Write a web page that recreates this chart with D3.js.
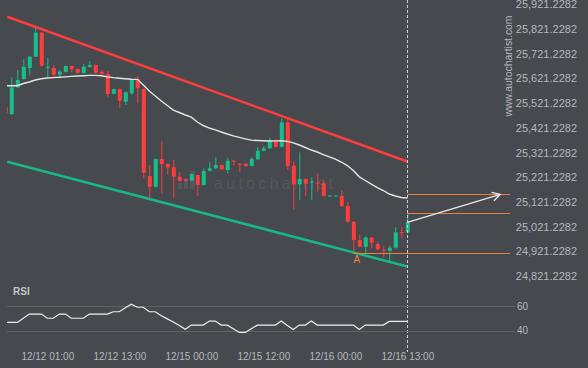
<!DOCTYPE html>
<html lang="en">
<head>
    <meta charset="UTF-8">
    <title>Autochartist channel chart</title>
    <style>
        body { margin: 0; background: #46494e; }
        svg { display: block; font-family: "Liberation Sans", Arial, sans-serif; }
        .axis text { fill: #b5b8bc; }
    </style>
    <script src="https://d3js.org/d3.v7.min.js"></script>
</head>
<body>
    <div id="chart"></div>
    <script>
        // hourly candles, index 0 .. 67
        const open = [25504.1, 25477.0, 25585.1, 25618.7, 25663.3, 25709.0, 25806.2, 25666.5, 25663.3, 25636.1,
            25648.3, 25671.4, 25659.2, 25643.0, 25667.3, 25675.4, 25648.3, 25639.0, 25559.2, 25578.2,
            25526.8, 25560.8, 25618.7, 25578.2, 25226.0, 25182.6, 25294.8, 25274.6, 25261.2, 25223.1,
            25212.6, 25206.9, 25230.0, 25189.5, 25247.4, 25257.2, 25270.5, 25250.3, 25287.9, 25275.8,
            25275.8, 25266.5, 25293.6, 25328.4, 25338.1, 25368.9, 25344.6, 25443.4, 25267.7, 25192.4,
            25213.8, 25201.7, 25199.7, 25196.4, 25145.0, 25145.0, 25145.0, 25104.5, 25040.9, 24966.8,
            24939.7, 24976.2, 24950.6, 24927.6, 24923.5, 24935.7, 24999.2, 24998.0];
        const high = [25509.4, 25625.6, 25655.2, 25698.5, 25711.9, 25828.1, 25809.0, 25703.8, 25675.4, 25655.2,
            25673.4, 25673.4, 25661.2, 25679.5, 25691.6, 25677.4, 25655.2, 25651.1, 25580.3, 25580.3,
            25568.1, 25616.7, 25630.9, 25580.3, 25270.5, 25296.8, 25364.9, 25276.6, 25290.8, 25242.2,
            25213.8, 25236.1, 25232.0, 25256.3, 25283.9, 25301.7, 25272.5, 25300.1, 25290.8, 25278.6,
            25278.6, 25301.7, 25342.2, 25347.4, 25379.8, 25374.6, 25458.8, 25459.6, 25283.9, 25321.9,
            25215.9, 25220.7, 25236.9, 25212.6, 25149.0, 25149.0, 25169.3, 25121.9, 25043.8, 24987.1,
            24983.0, 24979.0, 24960.0, 24942.5, 24943.8, 25018.3, 25020.7, 25074.9];
        const low = [25477.0, 25473.0, 25582.3, 25614.7, 25634.9, 25707.8, 25668.5, 25626.8, 25628.0, 25628.0,
            25645.0, 25645.9, 25641.0, 25641.0, 25665.3, 25641.0, 25636.9, 25544.6, 25556.0, 25500.1,
            25513.5, 25553.9, 25520.3, 25216.7, 25138.1, 25179.4, 25155.9, 25230.0, 25138.1, 25203.7,
            25203.7, 25203.7, 25145.0, 25187.5, 25244.2, 25254.3, 25250.3, 25236.9, 25266.5, 25243.4,
            25262.4, 25264.4, 25290.8, 25325.2, 25335.3, 25341.4, 25341.4, 25250.3, 25091.1, 25128.8,
            25145.0, 25128.8, 25162.4, 25143.0, 25143.0, 25143.0, 25100.5, 25037.7, 24913.0, 24936.5,
            24913.0, 24933.2, 24926.3, 24896.8, 24879.0, 24932.4, 24973.7, 24995.2];
        const close = [25482.3, 25585.1, 25614.7, 25668.5, 25709.0, 25806.2, 25672.6, 25668.5, 25636.1, 25648.3,
            25671.4, 25659.2, 25644.2, 25668.5, 25675.4, 25644.2, 25640.2, 25558.0, 25578.2, 25530.9,
            25564.9, 25614.7, 25581.1, 25239.3, 25182.6, 25294.8, 25274.6, 25261.2, 25223.1, 25206.9,
            25206.9, 25234.1, 25189.5, 25246.2, 25257.2, 25270.5, 25253.1, 25287.9, 25283.9, 25273.3,
            25266.5, 25296.0, 25328.4, 25338.1, 25368.9, 25344.6, 25443.4, 25266.5, 25192.4, 25213.8,
            25194.8, 25203.7, 25197.6, 25146.2, 25147.0, 25147.0, 25104.5, 25040.9, 24966.8, 24939.7,
            24976.2, 24955.9, 24929.2, 24925.1, 24935.7, 24998.0, 24996.4, 25038.5];
        // moving average (white line)
        const ma = [25591.6, 25591.6, 25591.6, 25600.5, 25606.6, 25614.7, 25619.9, 25622.8, 25624.4, 25626.0,
            25627.6, 25629.3, 25630.9, 25632.1, 25633.3, 25633.3, 25631.7, 25627.6, 25624.4, 25622.0,
            25619.9, 25617.9, 25617.5, 25594.4, 25570.1, 25549.9, 25529.6, 25511.4, 25493.2, 25483.1,
            25473.0, 25464.1, 25444.6, 25430.5, 25420.3, 25413.0, 25404.1, 25396.0, 25388.7, 25382.7,
            25376.6, 25371.3, 25369.7, 25368.5, 25367.7, 25368.1, 25368.9, 25366.5, 25360.4, 25351.5,
            25341.4, 25331.2, 25323.2, 25313.0, 25303.7, 25294.8, 25282.7, 25268.5, 25248.2, 25222.7,
            25207.8, 25193.6, 25179.4, 25167.3, 25153.1, 25145.0, 25138.9, 25136.9];
        const rsi = [46.6, 46.6, 46.6, 50, 53.4, 53.4, 53.4, 50, 50, 53.4,
            53.4, 50, 50, 50, 53.4, 53.4, 53.4, 53.4, 55.3, 55.3,
            58.5, 61.4, 59, 59, 55.3, 55.3, 52, 49.5, 47, 44,
            41, 44.4, 44.4, 44.4, 47.7, 47.7, 44.4, 44.4, 41.5, 38.4,
            38.4, 41.5, 44.4, 44.4, 44.4, 44.4, 47.7, 44, 40.8, 44.4,
            44.4, 47.7, 44.4, 44.4, 44.4, 44.4, 44.4, 44.4, 44.4, 40.8,
            44.4, 44.4, 44.4, 44.4, 47.4, 47.4, 47.4, 47.4];

        // channel lines: [index, price]
        const upperChannel = [[0.33, 25871.0], [67, 25284.7]];
        const lowerChannel = [[0.33, 25283.9], [67, 24859.5]];
        // pattern levels: [start index, price]
        const levels = [[67, 25151.9], [67, 25074.9], [58, 24913.0]];
        const target = [82.5, 25151.9];
        const pointA = [58, 24913.0];

        const priceTicks = d3.range(12).map(k => 25921.2282 - 100 * k);
        const rsiTicks = [60, 40];
        const timeTickIndex = [7, 19, 31, 43, 55, 67];
        const timeTickLabels = ["12/12 01:00", "12/12 13:00", "12/15 00:00", "12/15 12:00", "12/16 00:00", "12/16 13:00"];

        const W = 588, H = 368;
        const bg = "#46494e", up = "#19bd89", down = "#ff3d3d", orange = "#f07f3e";
        const lastIdx = open.length - 1;

        const svg = d3.select("#chart").append("svg")
            .attr("width", W).attr("height", H);
        svg.append("rect").attr("width", W).attr("height", H).attr("fill", bg);

        const x = d3.scaleLinear().domain([0, 84]).range([5.3, 509.3]);
        const y = d3.scaleLinear().domain([24821.2282, 25921.2282]).range([276, 4.3]);
        const yr = d3.scaleLinear().domain([40, 60]).range([330.5, 306]);

        const defs = svg.append("defs");
        defs.append("clipPath").attr("id", "plotClip")
            .append("rect").attr("x", 7).attr("y", 0).attr("width", 503).attr("height", 285);
        defs.append("clipPath").attr("id", "rsiClip")
            .append("rect").attr("x", 7).attr("y", 285).attr("width", 503).attr("height", 60);

        // watermark
        const wm = svg.append("g").attr("fill", "#53565b");
        [[178, 183, 4, 6], [184, 178, 4, 11], [190, 171, 5, 18]].forEach(r => {
            wm.append("rect").attr("x", r[0]).attr("y", r[1]).attr("width", r[2]).attr("height", r[3]);
        });
        wm.append("text").attr("x", 214).attr("y", 189)
            .attr("font-size", 16).attr("letter-spacing", 3.3)
            .text("autochartist");

        const plot = svg.append("g").attr("clip-path", "url(#plotClip)");

        // candles
        const idx = d3.range(open.length);
        plot.selectAll("line.wick").data(idx).join("line")
            .attr("class", "wick")
            .attr("x1", i => x(i) + 0.5).attr("x2", i => x(i) + 0.5)
            .attr("y1", i => y(high[i])).attr("y2", i => y(low[i]))
            .attr("stroke", i => close[i] >= open[i] ? up : down)
            .attr("stroke-width", 1);
        plot.selectAll("rect.body").data(idx).join("rect")
            .attr("class", "body")
            .attr("x", i => x(i) - 1.5)
            .attr("width", 4)
            .attr("y", i => y(Math.max(open[i], close[i])))
            .attr("height", i => Math.max(1, Math.abs(y(open[i]) - y(close[i]))))
            .attr("fill", i => close[i] >= open[i] ? up : down);

        // moving average
        plot.append("path")
            .datum(idx)
            .attr("d", d3.line().x(i => x(i)).y(i => y(ma[i])))
            .attr("fill", "none").attr("stroke", "#e4e4e4").attr("stroke-width", 1.4);

        // channel
        const chLine = d3.line().x(d => x(d[0])).y(d => y(d[1]));
        plot.append("path").datum(upperChannel).attr("d", chLine)
            .attr("stroke", down).attr("stroke-width", 2.5).attr("fill", "none");
        plot.append("path").datum(lowerChannel).attr("d", chLine)
            .attr("stroke", "#18b886").attr("stroke-width", 2.5).attr("fill", "none");

        // pattern levels
        plot.selectAll("line.level").data(levels).join("line")
            .attr("class", "level")
            .attr("x1", d => x(d[0])).attr("x2", 510)
            .attr("y1", d => Math.round(y(d[1])) + 0.5).attr("y2", d => Math.round(y(d[1])) + 0.5)
            .attr("stroke", orange).attr("stroke-width", 1.2);

        svg.append("text")
            .attr("x", x(pointA[0]) + 3.5).attr("y", y(pointA[1]) + 10)
            .attr("text-anchor", "middle").attr("font-size", 10)
            .attr("fill", orange).text("A");

        // forecast arrow
        const ax0 = x(lastIdx), ay0 = y(close[lastIdx]);
        const ax1 = x(target[0]), ay1 = y(target[1]);
        const ang = Math.atan2(ay1 - ay0, ax1 - ax0);
        svg.append("line")
            .attr("x1", ax0).attr("y1", ay0).attr("x2", ax1).attr("y2", ay1)
            .attr("stroke", "#e8e8e8").attr("stroke-width", 1.3);
        const head = [ang + Math.PI - 0.5, ang + Math.PI + 0.5].map(a => [ax1 + 9 * Math.cos(a), ay1 + 9 * Math.sin(a)]);
        svg.append("path")
            .attr("d", `M${head[0]}L${ax1},${ay1}L${head[1]}`)
            .attr("fill", "none").attr("stroke", "#e8e8e8").attr("stroke-width", 1.3);

        // current time marker
        svg.append("line")
            .attr("x1", Math.round(x(lastIdx)) + 0.5).attr("x2", Math.round(x(lastIdx)) + 0.5)
            .attr("y1", 0).attr("y2", 352)
            .attr("stroke", "#cfd0d2").attr("stroke-width", 1).attr("stroke-dasharray", "3,2");

        // price axis
        svg.append("g").attr("class", "axis")
            .attr("transform", "translate(577,0)")
            .call(d3.axisLeft(y).tickValues(priceTicks).tickSize(0).tickPadding(0)
                .tickFormat(d3.format(",.4f")))
            .call(g => g.select(".domain").remove())
            .selectAll("text").attr("font-size", 11);

        svg.append("text")
            .attr("transform", "translate(512,66) rotate(-90)")
            .attr("text-anchor", "middle").attr("font-size", 10.4)
            .attr("fill", "#b5b8bc").text("www.autochartist.com");

        // RSI panel
        svg.append("text").attr("x", 13).attr("y", 295)
            .attr("font-size", 10).attr("font-weight", "bold")
            .attr("fill", "#c2c4c7").text("RSI");

        svg.selectAll("line.rsiGrid").data(rsiTicks).join("line")
            .attr("class", "rsiGrid")
            .attr("x1", 7).attr("x2", 515)
            .attr("y1", d => Math.round(yr(d)) + 0.5).attr("y2", d => Math.round(yr(d)) + 0.5)
            .attr("stroke", "#5d6065").attr("stroke-width", 1);

        svg.append("g").attr("class", "axis")
            .attr("transform", "translate(515,0)")
            .call(d3.axisRight(yr).tickValues(rsiTicks).tickSize(0).tickPadding(2))
            .call(g => g.select(".domain").remove())
            .selectAll("text").attr("font-size", 10);

        svg.append("path")
            .datum(idx)
            .attr("clip-path", "url(#rsiClip)")
            .attr("d", d3.line().x(i => x(i)).y(i => yr(rsi[i])))
            .attr("fill", "none").attr("stroke", "#eeeeee").attr("stroke-width", 1.2);

        // time axis
        svg.append("g").attr("class", "axis")
            .attr("transform", "translate(0,352.5)")
            .call(d3.axisBottom(x).tickValues(timeTickIndex).tickSize(0).tickPadding(0)
                .tickFormat((d, k) => timeTickLabels[k]))
            .call(g => g.select(".domain").remove())
            .selectAll("text").attr("font-size", 10);
    </script>
</body>
</html>
